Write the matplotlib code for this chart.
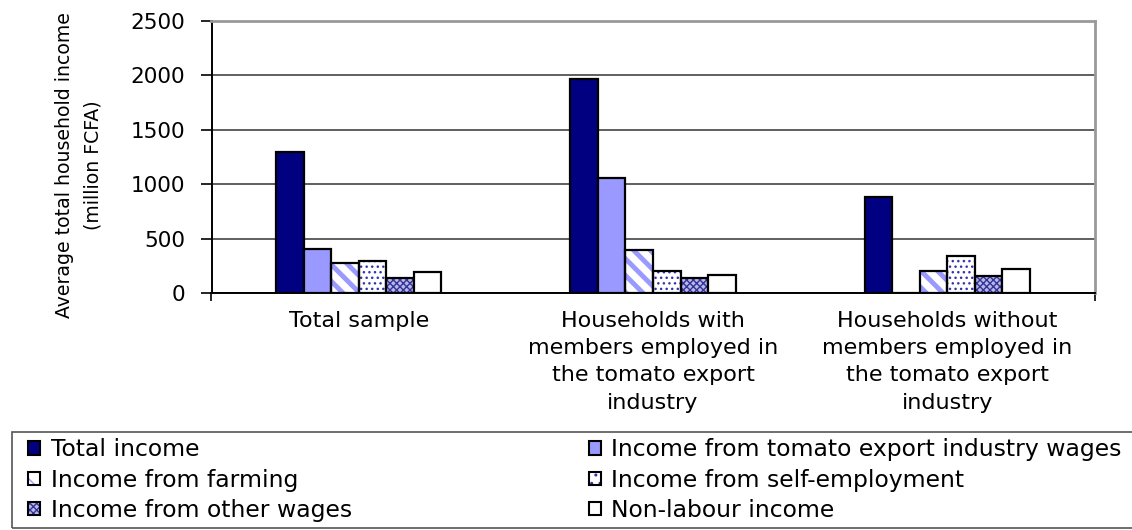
import matplotlib.pyplot as plt
import matplotlib as mpl
from matplotlib.patches import Patch, Rectangle
from matplotlib.legend_handler import HandlerTuple
import numpy as np

categories = [
    "Total sample",
    "Households with\nmembers employed in\nthe tomato export\nindustry",
    "Households without\nmembers employed in\nthe tomato export\nindustry",
]
series = [
    "Total income",
    "Income from tomato export industry wages",
    "Income from farming",
    "Income from self-employment",
    "Income from other wages",
    "Non-labour income",
]
total_income = [1297, 1962, 884]
tomato_wages = [407, 1053, 0]
farming = [278, 398, 199]
self_employment = [294, 199, 337]
other_wages = [141, 138, 153]
non_labour = [196, 168, 218]
values = [total_income, tomato_wages, farming, self_employment, other_wages, non_labour]
yticks = [0, 500, 1000, 1500, 2000, 2500]

# face colour, hatch, hatch colour, hatch line width
styles = [
    ("#000080", None, None, 1.0),
    ("#9999ff", None, None, 1.0),
    ("white", "\\\\", "#9999ff", 3.5),
    ("white", "...", "#3333aa", 1.0),
    ("#b8b8e8", "xxxxx", "#333399", 1.0),
    ("white", None, None, 1.0),
]

W, H = 1132, 530
fig = plt.figure(figsize=(W / 100, H / 100), dpi=100)
ax = fig.add_axes([211.5 / W, 1 - 293 / H, 883 / W, 272.3 / H])

x = np.arange(len(categories))
bw = 0.0935
handles = []
for i, (vals, (fc, hatch, hc, hlw)) in enumerate(zip(values, styles)):
    pos = x + (i - 2.5) * bw
    if hatch:
        with mpl.rc_context({"hatch.linewidth": hlw}):
            ax.bar(pos, vals, bw, color=fc, edgecolor=hc, hatch=hatch, lw=0, zorder=2)
            h1 = Patch(facecolor=fc, edgecolor=hc, hatch=hatch.replace("...", ".."), lw=0)
        ax.bar(pos, vals, bw, fill=False, edgecolor="black", lw=1.6, zorder=3)
        handles.append((h1, Patch(fill=False, edgecolor="black", lw=1.5)))
    else:
        ax.bar(pos, vals, bw, color=fc, edgecolor="black", lw=1.6, zorder=3)
        handles.append(Patch(facecolor=fc, edgecolor="black", lw=1.5))

ax.set_xlim(-0.5, 2.5)
ax.set_ylim(0, 2500)
ax.set_yticks(yticks)
ax.tick_params(axis="y", direction="out", length=8, width=1.2, labelsize=15.5, pad=11)
ax.set_xticks(x)
ax.set_xticklabels(categories, fontsize=16, linespacing=1.45, va="top")
ax.tick_params(axis="x", length=0, pad=13)
ax.set_xticks([-0.5, 2.5], minor=True)
ax.tick_params(axis="x", which="minor", direction="out", length=6, width=1.2)
ax.grid(axis="y", color="#444444", lw=1.2, zorder=0)
ax.spines["left"].set_linewidth(1.4)
ax.spines["bottom"].set_linewidth(1.4)
for s in ("top", "right"):
    ax.spines[s].set_color("#999999")
    ax.spines[s].set_linewidth(2)
ax.set_ylabel("Average total household income\n(million FCFA)", fontsize=13.6,
              linespacing=1.6)
ax.yaxis.set_label_coords(-0.124, 0.47)

fig.patches.append(Rectangle((12 / W, 2 / H), 1.2, 96 / H, transform=fig.transFigure,
                             fill=False, edgecolor="#555555", lw=1.2))
order = [0, 2, 4, 1, 3, 5]
fig.legend([handles[k] for k in order], [series[k] for k in order], ncol=2,
           loc="upper left", bbox_to_anchor=(19 / W, 1 - 429 / H), frameon=False,
           fontsize=16.9, handlelength=0.5, handleheight=0.5, handletextpad=0.45,
           columnspacing=10.1, labelspacing=0.31, borderaxespad=0,
           handler_map={tuple: HandlerTuple(ndivide=1, pad=0)})

fig.savefig("out.png", dpi=100)
